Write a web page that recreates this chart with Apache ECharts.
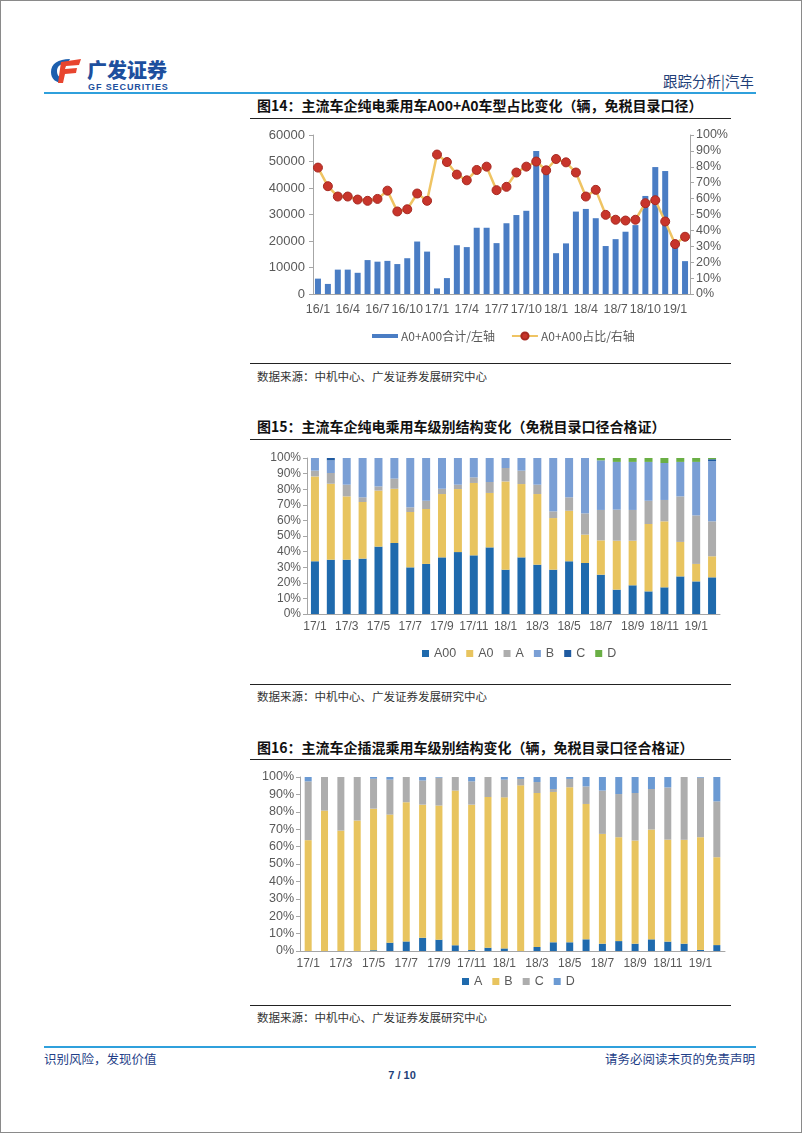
<!DOCTYPE html>
<html><head><meta charset="utf-8">
<script src="https://cdn.jsdelivr.net/npm/echarts@6/dist/echarts.min.js"></script>
<style>
html,body{margin:0;padding:0;background:#fff;}
#page{position:relative;width:802px;height:1133px;box-sizing:border-box;border:1px solid #8a8a8a;overflow:hidden;font-family:"Noto Sans CJK SC","Liberation Sans",sans-serif;}
.abs{position:absolute;white-space:nowrap;}
.title{font-weight:bold;font-size:14px;color:#111;left:256px;}
.rule{position:absolute;height:1px;background:#222;left:249px;width:481px;}
.src{font-size:11.5px;color:#333;left:256px;}
.chart{position:absolute;left:0;width:802px;}
</style></head>
<body>
<div id="page">
  <svg class="abs" style="left:49px;top:57px" width="32" height="26" viewBox="0 0 32 26">
    <path d="M20 1 C8 1 1 6 1 14 C1 21 6 25 13 25 L13 20 C9 20 7 17 7 13 C7 8 11 5 18 5 Z" fill="#1d5fae"/>
    <path d="M11 4 L31 1 L29 7 L16 8 L15 11 L27 10 L26 15 L15 16 L13 25 L8 25 Z" fill="#e8452f"/>
  </svg>
  <div class="abs" style="left:86px;top:58px;font-size:20px;line-height:22px;font-weight:900;color:#1d4f9e">广发证券</div>
  <div class="abs" style="left:87px;top:81px;font-size:9px;line-height:10px;font-weight:bold;color:#1d4f9e;letter-spacing:0.9px;font-family:'Liberation Sans'">GF SECURITIES</div>
  <div class="abs" style="left:662px;top:70px;font-size:14.5px;line-height:20px;color:#1f3f78">跟踪分析|汽车</div>
  <div class="abs" style="left:43px;top:91px;width:712px;height:2px;background:#2fa0dc"></div>

  <div class="abs title" style="top:94px">图14：主流车企纯电乘用车A00+A0车型占比变化（辆，免税目录口径）</div>
  <div class="rule" style="top:117px"></div>
  <div id="c1" class="chart" style="top:120px;height:230px"></div>
  <div class="rule" style="top:362px"></div>
  <div class="abs src" style="top:367px">数据来源：中机中心、广发证券发展研究中心</div>

  <div class="abs title" style="top:415px">图15：主流车企纯电乘用车级别结构变化（免税目录口径合格证）</div>
  <div class="rule" style="top:438px"></div>
  <div id="c2" class="chart" style="top:440px;height:230px"></div>
  <div class="rule" style="top:683px"></div>
  <div class="abs src" style="top:687px">数据来源：中机中心、广发证券发展研究中心</div>

  <div class="abs title" style="top:736px">图16：主流车企插混乘用车级别结构变化（辆，免税目录口径合格证）</div>
  <div class="rule" style="top:758px"></div>
  <div id="c3" class="chart" style="top:760px;height:230px"></div>
  <div class="rule" style="top:1004px"></div>
  <div class="abs src" style="top:1008px">数据来源：中机中心、广发证券发展研究中心</div>

  <div class="abs" style="left:43px;top:1045px;width:712px;height:2px;background:#2fa0dc"></div>
  <div class="abs" style="left:43px;top:1048px;font-size:12.5px;color:#1f3f88">识别风险，发现价值</div>
  <div class="abs" style="right:46px;top:1048px;font-size:12.5px;color:#1f3f88">请务必阅读末页的免责声明</div>
  <div class="abs" style="left:0;width:802px;text-align:center;top:1068px;font-size:11px;font-weight:bold;color:#1f3f78;font-family:'Liberation Sans'">7 / 10</div>
</div>
<script>
// ---- Chart 14 data ----
const months1 = ['16/1','16/2','16/3','16/4','16/5','16/6','16/7','16/8','16/9','16/10','16/11','16/12',
  '17/1','17/2','17/3','17/4','17/5','17/6','17/7','17/8','17/9','17/10','17/11','17/12',
  '18/1','18/2','18/3','18/4','18/5','18/6','18/7','18/8','18/9','18/10','18/11','18/12','19/1','19/2'];
const volA0A00 = [5800,3800,9200,9200,8000,12800,12200,12500,11300,13500,19800,16000,
  2100,6000,18400,17700,25000,25000,19200,26700,29800,31400,54000,47700,
  15400,19100,31100,32100,28600,18100,20700,23500,26000,37000,47900,46400,19000,12400];
const shareA0A00 = [79.5,67.8,61.3,61.3,59.4,58.6,59.8,65.0,51.9,53.3,63.2,58.6,
  87.7,83.0,75.1,71.5,78.0,80.1,65.3,67.4,76.4,80.1,83.3,77.8,
  84.9,82.8,76.4,61.3,65.5,49.8,46.7,46.2,46.7,57.1,59.0,45.6,31.4,36.0];

// ---- Chart 15 / 16 categories ----
const months2 = ['17/1','17/2','17/3','17/4','17/5','17/6','17/7','17/8','17/9','17/10','17/11','17/12',
  '18/1','18/2','18/3','18/4','18/5','18/6','18/7','18/8','18/9','18/10','18/11','18/12','19/1','19/2'];

// ---- Chart 15 data (%, BEV by class) ----
const bevA00 = [33.8,34.8,34.8,35.5,43.2,45.5,29.9,32.1,36.3,39.7,37.6,42.7,28.4,36.3,31.6,28.4,33.8,32.7,25.2,15.6,18.4,14.5,17.1,24.1,20.9,23.5];
const bevA0  = [54.4,48.7,40.6,36.3,35.9,34.8,35.5,35.2,40.6,40.4,46.4,34.9,56.6,47.0,45.3,33.1,32.4,18.2,22.0,31.4,28.6,43.2,42.3,22.1,11.2,13.5];
const bevA   = [3.7,6.9,7.5,3.0,2.7,6.5,3.0,5.3,3.4,2.8,3.6,7.0,8.6,8.6,6.0,4.3,8.6,13.6,19.5,19.9,19.7,14.9,13.7,29.2,31.1,22.4];
const bevB   = [8.1,8.1,17.1,25.2,18.2,13.2,31.6,27.4,19.7,17.1,12.4,15.4,6.4,8.1,17.1,34.2,25.2,35.5,31.8,30.6,30.8,24.9,23.7,22.1,34.3,38.6];
const bevC   = [0,1.5,0,0,0,0,0,0,0,0,0,0,0,0,0,0,0,0,0,0,0,0,0,0,0,1.2];
const bevD   = [0,0,0,0,0,0,0,0,0,0,0,0,0,0,0,0,0,0,1.5,2.5,2.5,2.5,3.2,2.5,2.5,0.8];

// ---- Chart 16 data (%, PHEV by class) ----
const phevA = [0,0,0,0,0.5,4.8,5.5,7.6,6.5,3.3,0.6,1.9,1.5,0,2.3,5.0,5.0,6.7,4.2,5.7,4.2,6.7,5.4,4.2,0.6,3.4];
const phevB = [63.7,80.7,69.2,75.0,81.3,73.6,80.0,76.5,77.1,88.9,83.5,86.6,86.8,95.2,88.5,86.4,89.1,77.8,63.1,59.7,59.3,63.1,58.6,59.7,64.8,50.5];
const phevC = [33.8,19.3,30.8,25.0,17.2,20.1,14.5,13.9,16.0,7.8,13.4,11.5,10.2,3.7,6.3,1.7,4.8,10.1,24.9,24.8,27.3,23.3,30.0,36.1,34.2,32.1];
const phevD = [2.5,0,0,0,1.0,1.5,0,2.0,0.4,0,2.5,0,1.5,1.1,2.9,6.9,1.1,5.4,7.8,9.8,9.2,6.9,6.0,0,0.4,14.0];

const pctTicks = ['0%','10%','20%','30%','40%','50%','60%','70%','80%','90%','100%'];

const AX = '#A6A6A6', LB = '#595959', FF = 'Liberation Sans, Arial, sans-serif';

function xAxisCfg(cats, every, margin, fs){
  return {type:'category', data:cats, boundaryGap:true,
    axisLine:{lineStyle:{color:AX}},
    axisTick:{interval:every, length:4, lineStyle:{color:AX}},
    axisLabel:{interval:every, color:LB, fontSize:fs, fontFamily:FF, margin:margin}};
}
function pctAxis(fs, pos){
  return {type:'value', min:0, max:100, interval:10, position:pos||'left',
    splitLine:{show:false},
    axisLine:{show:true, lineStyle:{color:AX}},
    axisTick:{show:true, length:4, lineStyle:{color:AX}},
    axisLabel:{color:LB, fontSize:fs, fontFamily:FF, margin:6, formatter:v=>pctTicks[Math.round(v/10)]}};
}

// ---- Chart 1 ----
const c1 = echarts.init(document.getElementById('c1'));
c1.setOption({
  animation:false,
  grid:{left:312, right:113, top:14, bottom:57},
  legend:{left:366, top:204, itemGap:16, itemWidth:26, itemHeight:9,
    textStyle:{color:LB, fontSize:12, fontFamily:'Noto Sans CJK SC', padding:[0,0,0,-2]},
    data:[{name:'A0+A00合计/左轴', icon:'path://M0,3H26V7H0Z'}, {name:'A0+A00占比/右轴'}]},
  xAxis:xAxisCfg(months1, 2, 9, 12.5),
  yAxis:[{type:'value', min:0, max:60000, interval:10000,
      splitLine:{show:false}, axisLine:{show:true, lineStyle:{color:AX}},
      axisTick:{show:true, length:4, lineStyle:{color:AX}},
      axisLabel:{color:LB, fontSize:13, fontFamily:FF, margin:8, formatter:v=>String(v)}},
    pctAxis(12.5,'right')],
  series:[
    {name:'A0+A00合计/左轴', type:'bar', data:volA0A00, barWidth:6, itemStyle:{color:'#4a7dc4'}},
    {name:'A0+A00占比/右轴', type:'line', yAxisIndex:1, data:shareA0A00, symbol:'circle', symbolSize:9,
      showSymbol:true, showAllSymbol:true,
      lineStyle:{color:'#efc463', width:2.5}, itemStyle:{color:'#c8352b', borderColor:'#a62a22', borderWidth:1}}
  ]
});

// ---- Chart 2 ----
const colors2 = {A00:'#1f6aad', A0:'#e8c45f', A:'#adadad', B:'#7a9fd5', C:'#1f5aa0', D:'#6aaf45'};
const c2 = echarts.init(document.getElementById('c2'));
function stackBar(name, data, color, w){ return {name, type:'bar', stack:'s', data, barWidth:w, itemStyle:{color}}; }
c2.setOption({
  animation:false,
  grid:{left:306, right:83, top:17, bottom:57},
  legend:{left:416, top:201, itemGap:10, itemWidth:7, itemHeight:7, icon:'rect',
    textStyle:{color:LB, fontSize:12.5, fontFamily:FF}},
  xAxis:xAxisCfg(months2, 1, 7, 12),
  yAxis:pctAxis(12),
  series:[stackBar('A00',bevA00,colors2.A00,8), stackBar('A0',bevA0,colors2.A0,8), stackBar('A',bevA,colors2.A,8),
          stackBar('B',bevB,colors2.B,8), stackBar('C',bevC,colors2.C,8), stackBar('D',bevD,colors2.D,8)]
});

// ---- Chart 3 ----
const colors3 = {A:'#1f6aad', B:'#e8c45f', C:'#adadad', D:'#6b9ad3'};
const c3 = echarts.init(document.getElementById('c3'));
c3.setOption({
  animation:false,
  grid:{left:299, right:78, top:16, bottom:40},
  legend:{left:456, top:209, itemGap:10, itemWidth:7, itemHeight:7, icon:'rect',
    textStyle:{color:LB, fontSize:12.5, fontFamily:FF}},
  xAxis:xAxisCfg(months2, 1, 7, 12),
  yAxis:pctAxis(12.5),
  series:[stackBar('A',phevA,colors3.A,7), stackBar('B',phevB,colors3.B,7),
          stackBar('C',phevC,colors3.C,7), stackBar('D',phevD,colors3.D,7)]
});
</script>
</body></html>
